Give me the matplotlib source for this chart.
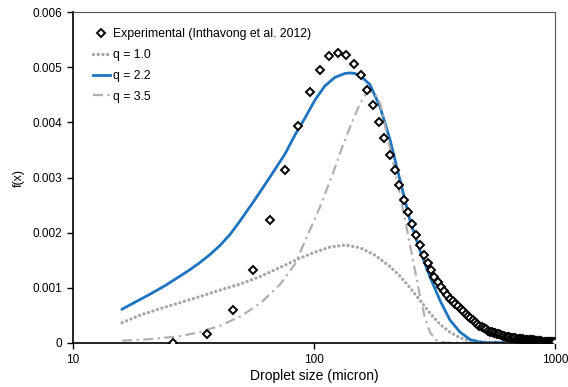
import numpy as np
import matplotlib
matplotlib.use('Agg')
import matplotlib.pyplot as plt

plt.rcParams['font.family'] = ['Liberation Sans', 'DejaVu Sans']

# experimental data, bins of 10 micron starting at 26
exp_x = list(range(26, 1000, 10))
exp_y = [
    0.00000, 0.00015, 0.00059, 0.00132, 0.00223, 0.00314, 0.00393, 0.00455,
    0.00496, 0.00520, 0.00527, 0.00523, 0.00507, 0.00486, 0.00459, 0.00432,
    0.00401, 0.00371, 0.00341, 0.00314, 0.00287, 0.00260, 0.00237, 0.00216,
    0.00195, 0.00177, 0.00159, 0.00145, 0.00132, 0.00120, 0.00110, 0.00101,
    0.00093, 0.00086, 0.00080, 0.00075, 0.00070, 0.00066, 0.00062, 0.00058,
    0.00053, 0.00049, 0.00045, 0.00041, 0.00037, 0.00034, 0.00031, 0.00028,
    0.00026, 0.00024, 0.00022, 0.00020, 0.00019, 0.00018, 0.00017, 0.00016,
    0.00015, 0.00014, 0.00013, 0.00012, 0.00011, 0.00011, 0.00010, 0.00009,
    0.00009, 0.00008, 0.00008, 0.00007, 0.00007, 0.00006, 0.00006, 0.00006,
    0.00005, 0.00005, 0.00005, 0.00004, 0.00004, 0.00004, 0.00004, 0.00004,
    0.00003, 0.00003, 0.00003, 0.00003, 0.00003, 0.00003, 0.00002, 0.00002,
    0.00002, 0.00002, 0.00002, 0.00002, 0.00002, 0.00002, 0.00002, 0.00002,
    0.00002, 0.00001,
]

# q = 1.0
q10_x = [16.0, 19.0, 23.0, 27.8, 33.6, 40.7, 49.3, 59.7, 72.2, 87.5, 101,
         116.5, 134.5, 155, 179, 207, 227.5, 250, 275, 303, 333, 367, 403,
         444, 512, 1000]
q10_y = [0.000364, 0.000500, 0.000618, 0.000727, 0.000836, 0.000955,
         0.001064, 0.001200, 0.001364, 0.001536, 0.001645, 0.001736,
         0.001773, 0.001727, 0.001591, 0.001382, 0.001209, 0.001000,
         0.000773, 0.000536, 0.000336, 0.000191, 0.000091, 0.000036,
         0.00001, 0.0]

# q = 2.2
q22_x = [16.0, 18.1, 20.9, 24.1, 27.8, 30.6, 33.6, 37.0, 40.7, 44.8, 49.3,
         56.9, 65.7, 75.8, 83.4, 91.8, 101, 111, 122, 134.5, 141, 148, 158,
         171, 188, 207, 227.5, 250, 275, 303, 333, 367, 403, 444, 489, 591,
         1000]
q22_y = [0.000609, 0.000736, 0.000882, 0.001036, 0.001209, 0.001327,
         0.001455, 0.001600, 0.001764, 0.001964, 0.002209, 0.002600,
         0.003009, 0.003427, 0.003773, 0.004082, 0.004409, 0.004664,
         0.004818, 0.004891, 0.004900, 0.004891, 0.004827, 0.004682,
         0.004287, 0.003682, 0.002955, 0.002227, 0.001682, 0.001196,
         0.000773, 0.000409, 0.000196, 0.000058, 0.00001, 0.0, 0.0]

# q = 3.5
q35_x = [16.0, 20.9, 27.8, 33.6, 40.7, 49.3, 59.7, 72.2, 83.4, 91.8, 106,
         120, 132, 144, 155, 164, 171, 179, 188, 201, 221, 239, 257.5, 275,
         289, 303, 321, 350, 1000]
q35_y = [0.000036, 0.000064, 0.000118, 0.000191, 0.000309, 0.000473,
         0.000709, 0.001055, 0.001427, 0.001845, 0.002469, 0.003082,
         0.003591, 0.004009, 0.004336, 0.004518, 0.004564, 0.004527,
         0.004355, 0.003773, 0.002955, 0.002227, 0.001500, 0.000864,
         0.000445, 0.000191, 0.000045, 0.0, 0.0]

fig = plt.figure(figsize=(5.68, 3.87), dpi=100)
ax = fig.add_axes([0.1285, 0.1145, 0.8485, 0.8535])

ax.plot(q10_x, q10_y, color='#a6a6a6', lw=2.4, linestyle=(0, (0.01, 1.4)),
        dash_capstyle='round', label='q = 1.0')
ax.plot(q22_x, q22_y, color='#1f74c0', lw=2.0, label='q = 2.2')
ax.plot(q35_x, q35_y, color='#b0b0b0', lw=1.6,
        linestyle=(0, (4.5, 2, 1, 2)), label='q = 3.5')
ax.plot(exp_x, exp_y, linestyle='none', marker='D', markersize=4.0,
        markerfacecolor='white', markeredgecolor='black', markeredgewidth=1.4,
        label='Experimental (Inthavong et al. 2012)', zorder=5)

ax.set_xscale('log')
ax.set_xlim(10, 1000)
ax.set_ylim(0, 0.006)
ax.set_yticks([0, 0.001, 0.002, 0.003, 0.004, 0.005, 0.006])
ax.set_yticklabels(['0', '0.001', '0.002', '0.003', '0.004', '0.005', '0.006'])
ax.set_xticks([10, 100, 1000])
ax.set_xticklabels(['10', '100', '1000'])
ax.xaxis.set_minor_locator(matplotlib.ticker.NullLocator())
ax.tick_params(labelsize=8.5, length=4, width=1, direction='out')
ax.tick_params(axis='x', pad=4.5)

for side in ['top', 'right']:
    ax.spines[side].set_color('#555555')
for side in ['left', 'bottom']:
    ax.spines[side].set_color('black')
    ax.spines[side].set_linewidth(1.2)

ax.set_xlabel('Droplet size (micron)', fontsize=10, labelpad=2)
ax.set_ylabel('f(x)', fontsize=9, labelpad=6)

h, l = ax.get_legend_handles_labels()
order = [3, 0, 1, 2]
ax.legend([h[i] for i in order], [l[i] for i in order], loc='upper left',
          bbox_to_anchor=(0.018, 0.985), frameon=False, fontsize=8.8,
          handlelength=1.4, handletextpad=0.25, labelspacing=0.72,
          numpoints=1)

# title line, cut off at the top of the source image
fig.text(0.2025, 1.019, 'Compare (Fig. 2)', fontsize=22, style='italic',
         family='Liberation Serif', va='baseline', ha='left')

fig.savefig('out.png', dpi=100)
